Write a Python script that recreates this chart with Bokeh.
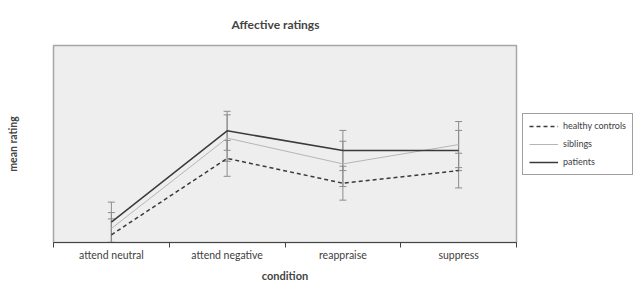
from bokeh.plotting import figure
from bokeh.models import FixedTicker, Legend, LegendItem, Range1d
from bokeh.embed import file_html
from bokeh.resources import INLINE

conditions = ["attend neutral", "attend negative", "reappraise", "suppress"]
series_names = ["healthy controls", "siblings", "patients"]
controls = [3.9, 42.7, 30.1, 36.5]
controls_err = [8.1, 9.1, 8.6, 8.8]
siblings = [7.1, 53.0, 39.9, 49.7]
siblings_err = [8.1, 11.8, 11.5, 11.7]
patients = [10.3, 56.7, 46.7, 46.7]
patients_err = [10.2, 9.9, 10.2, 10.2]

FONT = "Lato"
x = [i + 0.5 for i in range(len(conditions))]

p = figure(frame_width=463, frame_height=197, output_backend="svg", toolbar_location=None,
           x_range=Range1d(0, len(conditions)), y_range=Range1d(0, 100),
           min_border_left=53, min_border_right=121, min_border_top=45,
           min_border_bottom=41)
p.background_fill_color = "#eeeeee"
p.border_fill_color = "white"
p.outline_line_color = "#a6a6a6"
p.outline_line_width = 1.5
p.xgrid.visible = False
p.ygrid.visible = False

p.title.text = "Affective ratings"
p.title.text_font = FONT
p.title.text_font_style = "bold"
p.title.text_font_size = "12px"
p.title.align = "left"
p.title.offset = 178
p.title.standoff = 28

# error bars
err_color = "#8c8c8c"
for vals, errs in [(controls, controls_err), (siblings, siblings_err), (patients, patients_err)]:
    lo = [v - e for v, e in zip(vals, errs)]
    hi = [v + e for v, e in zip(vals, errs)]
    p.segment(x0=x, y0=lo, x1=x, y1=hi, line_color=err_color, line_width=1)
    p.dash(x=x, y=lo, size=7, line_color=err_color, line_width=1)
    p.dash(x=x, y=hi, size=7, line_color=err_color, line_width=1)

r_c = p.line(x, controls, line_color="#3a3a3a", line_width=1.5, line_dash="4 3")
r_s = p.line(x, siblings, line_color="#b5b5b5", line_width=1)
r_p = p.line(x, patients, line_color="#3a3a3a", line_width=1.5)

xa = p.xaxis[0]
xa.ticker = FixedTicker(ticks=x, minor_ticks=list(range(len(conditions) + 1)))
xa.major_label_overrides = {xv: c for xv, c in zip(x, conditions)}
xa.major_tick_out = 0
xa.major_tick_in = 0
xa.minor_tick_out = 5
xa.minor_tick_in = 0
xa.minor_tick_line_color = "#444444"
xa.axis_line_color = "#444444"
xa.major_label_text_font = FONT
xa.major_label_text_font_size = "10.5px"
xa.major_label_text_color = "#404040"
xa.major_label_standoff = 1
xa.axis_label = "condition"
xa.axis_label_text_font = FONT
xa.axis_label_text_font_style = "bold"
xa.axis_label_text_font_size = "11px"
xa.axis_label_standoff = 5

ya = p.yaxis[0]
ya.ticker = FixedTicker(ticks=[])
ya.major_tick_line_color = None
ya.minor_tick_line_color = None
ya.axis_line_color = None
ya.major_label_text_font_size = "0px"
ya.axis_label = "mean rating"
ya.axis_label_text_font = FONT
ya.axis_label_text_font_style = "bold"
ya.axis_label_text_font_size = "10.5px"
ya.axis_label_standoff = 35

legend = Legend(items=[LegendItem(label=series_names[0], renderers=[r_c]),
                       LegendItem(label=series_names[1], renderers=[r_s]),
                       LegendItem(label=series_names[2], renderers=[r_p])],
                location="left")
legend.border_line_color = "#404040"
legend.border_line_width = 1
legend.background_fill_color = "white"
legend.background_fill_alpha = 1
legend.label_text_font = FONT
legend.label_text_font_size = "9px"
legend.label_text_color = "#404040"
legend.glyph_width = 29
legend.glyph_height = 12
legend.label_height = 12
legend.label_standoff = 5
legend.spacing = 6
legend.padding = 6
legend.margin = 6
p.add_layout(legend, "right")

open("out.html", "w").write(file_html(p, INLINE))
